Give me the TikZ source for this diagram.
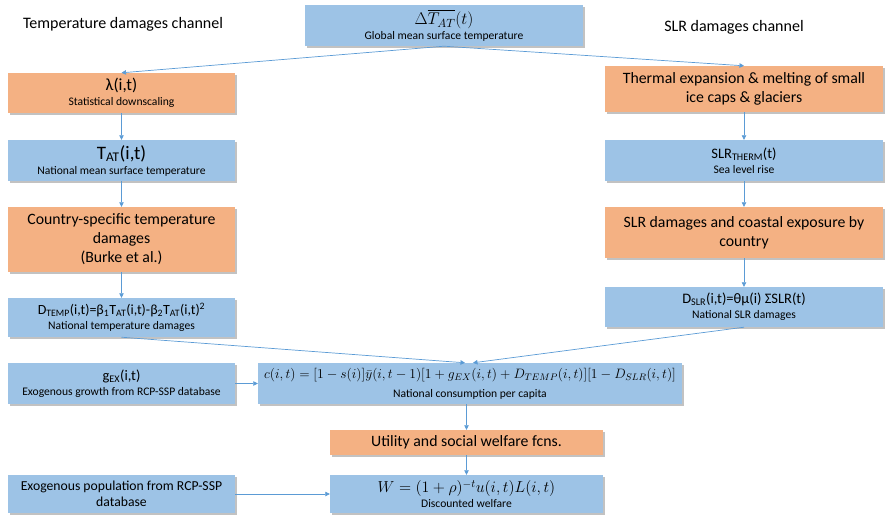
\RequirePackage{fix-cm}
\documentclass[tikz,border=0pt]{standalone}
\usepackage{amsmath}
\usepackage[no-math]{fontspec}
\setmainfont{Carlito}
\usetikzlibrary{arrows.meta,shadows}

\definecolor{boxblue}{HTML}{9DC3E6}
\definecolor{boxorange}{HTML}{F4B183}
\definecolor{lineblue}{HTML}{5B9BD5}
\newcommand{\mainsize}{\fontsize{15.8}{19}\selectfont}
\newcommand{\subsize}{\fontsize{11.6}{15}\selectfont}

\begin{document}
\begin{tikzpicture}[x=1pt,y=-1pt,
    box/.style={rectangle, inner sep=0pt, align=center, font=\subsize,
        drop shadow={shadow xshift=1.5pt, shadow yshift=-1.5pt, fill=black!40, opacity=0.6}},
    bluebox/.style={box, fill=boxblue},
    orangebox/.style={box, fill=boxorange, font=\mainsize},
    leftcol/.style={minimum width=227pt},
    rightcol/.style={minimum width=278pt},
    flow/.style={draw=lineblue, line width=0.7pt, -{Triangle[length=4.5pt,width=4.5pt]}}]
    \useasboundingbox (0,0) rectangle (888,517);

    % Top of the chain
    \node[bluebox, minimum width=278pt, minimum height=41pt] (gmst) at (444,25.5)
        {{\fontsize{17}{19}\selectfont $\Delta\overline{T_{AT}}(t)$}\\{Global mean surface temperature}};
    \node[font=\fontsize{16}{19}\selectfont] (tlabel) at (123,24) {Temperature damages channel};
    \node[font=\fontsize{16}{19}\selectfont] (slabel) at (734,27) {SLR damages channel};

    % Temperature channel
    \node[orangebox, leftcol, minimum height=40pt, font=\subsize] (lam) at (121.5,93)
        {{\fontsize{17}{19}\selectfont λ(i,t)}\\{Statistical downscaling}};
    \node[bluebox, leftcol, minimum height=41pt] (tat) at (121.5,160.5)
        {{\fontsize{19}{20}\selectfont T\textsubscript{AT}(i,t)}\\{National mean surface temperature}};
    \node[orangebox, leftcol, minimum height=65pt] (burke) at (121.5,239.5)
        {Country-specific temperature\\damages\\(Burke et al.)};
    \node[bluebox, leftcol, minimum height=39pt] (dtemp) at (121.5,317.5)
        {{\fontsize{14}{16}\selectfont D\textsubscript{TEMP}(i,t)=β\textsubscript{1}T\textsubscript{AT}(i,t)-β\textsubscript{2}T\textsubscript{AT}(i,t)\textsuperscript{2}}\\{National temperature damages}};

    % SLR channel
    \node[orangebox, rightcol, minimum height=46pt] (therm) at (744,89)
        {Thermal expansion \& melting of small\\ice caps \& glaciers};
    \node[bluebox, rightcol, minimum height=41pt] (slrt) at (744,160.5)
        {{\fontsize{14.5}{17}\selectfont SLR\textsubscript{THERM}(t)}\\{Sea level rise}};
    \node[orangebox, rightcol, minimum height=51pt] (coast) at (744,232.5)
        {SLR damages and coastal exposure by\\country};
    \node[bluebox, rightcol, minimum height=40pt] (dslr) at (744,307)
        {{\fontsize{14.5}{17}\selectfont D\textsubscript{SLR}(i,t)=θμ(i) ΣSLR(t)}\\{National SLR damages}};

    % Consumption and welfare
    \node[bluebox, leftcol, minimum height=41pt] (gex) at (121.5,383.5)
        {{\fontsize{14.5}{17}\selectfont g\textsubscript{EX}(i,t)}\\{Exogenous growth from RCP-SSP database}};
    \node[bluebox, minimum width=424pt, minimum height=41pt] (cons) at (470,383.5)
        {{\fontsize{13.6}{15}\selectfont $c(i,t)=[1-s(i)]\bar{y}(i,t-1)[1+g_{EX}(i,t)+D_{TEMP}(i,t)][1-D_{SLR}(i,t)]$}\\[4pt]{National consumption per capita}};
    \node[orangebox, minimum width=273pt, minimum height=25pt] (util) at (466.5,442.5)
        {Utility and social welfare fcns.};
    \node[bluebox, leftcol, minimum height=38pt, font=\fontsize{13.7}{16.5}\selectfont] (pop) at (121.5,494)
        {Exogenous population from RCP-SSP\\database};
    \node[bluebox, minimum width=273pt, minimum height=38pt] (welf) at (466.5,494)
        {{\fontsize{15.9}{18}\selectfont $W=(1+\rho)^{-t}u(i,t)L(i,t)$}\\{Discounted welfare}};

    % Edges
    \draw[flow] (gmst.south) -- (lam.north);
    \draw[flow] (gmst.south) -- (therm.north);
    \draw[flow] (lam) -- (tat);
    \draw[flow] (tat) -- (burke);
    \draw[flow] (burke) -- (dtemp);
    \draw[flow] (therm) -- (slrt);
    \draw[flow] (slrt) -- (coast);
    \draw[flow] (coast) -- (dslr);
    \draw[flow] (dtemp.south) -- ([xshift=-5pt]cons.north);
    \draw[flow] (dslr.south) -- ([xshift=3pt]cons.north);
    \draw[flow] (gex) -- (cons);
    \draw[flow] (cons.south -| util.north) -- (util);
    \draw[flow] (util) -- (welf);
    \draw[flow] (pop) -- (welf);
\end{tikzpicture}
\end{document}
